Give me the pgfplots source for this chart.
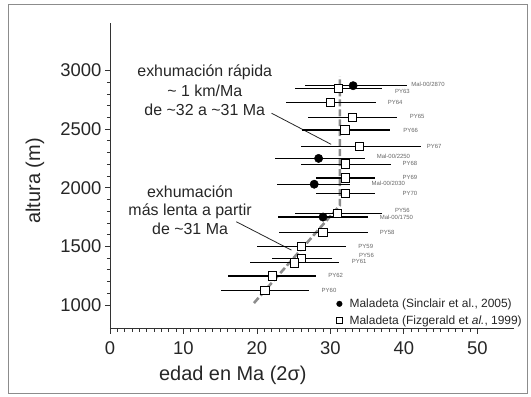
\documentclass[border=0pt]{standalone}
\usepackage{fontspec}
\setmainfont{Liberation Sans}
\usepackage{pgfplots}
\pgfplotsset{compat=1.18}
\usepackage{pgfplotstable}

\pgfplotstableread{
x y em ep
31.1 2846 5.9 5.9
30.0 2727 6.0 6.2
33.0 2599 6.0 6.1
32.0 2491 5.9 6.1
34.0 2354 8.0 8.4
32.1 2201 6.1 6.1
32.1 2084 4.0 4.0
32.1 1951 4.0 4.0
31.0 1781 5.8 6.0
29.0 1616 6.0 6.1
26.1 1497 6.1 6.0
26.1 1398 4.1 4.1
25.1 1360 6.1 6.1
22.1 1247 6.0 6.0
21.1 1122 6.0 6.0
}\fitz

\pgfplotstableread{
x y em ep
33.1 2870 6.6 7.3
28.4 2250 6.0 6.3
27.8 2030 5.1 4.9
29.0 1750 6.1 6.1
}\sinc

\pgfplotstableread{
x y
19.6 1017
31.3 1850
31.3 2950
}\trend

\begin{document}
\begin{tikzpicture}
\useasboundingbox (-110bp,-68.5bp) rectangle (421bp,328.5bp);
\draw[black!45, line width=1pt] (-102bp,-64.5bp) rectangle (417bp,323.5bp);
\begin{axis}[
  at={(0,0)}, anchor=south west,
  scale only axis, width=404bp, height=305bp,
  xmin=0, xmax=55, ymin=800, ymax=3400,
  axis lines=left, axis line style={-, line width=0.8pt, black!80},
  xtick={0,10,...,50}, ytick={1000,1500,...,3000},
  minor x tick num=9, minor y tick num=4,
  tick align=outside, major tick length=5bp, minor tick length=3bp,
  every tick/.style={line width=0.7pt, black!80},
  /pgf/number format/assume math mode=true,
  /pgf/number format/1000 sep={},
  ticklabel style={font=\fontsize{18.5}{20}\selectfont, text=black!85},
  xticklabel style={yshift=-5bp},
  xlabel={edad en Ma (2σ)}, ylabel={altura (m)},
  label style={font=\fontsize{20}{22}\selectfont, text=black!85},
  xlabel style={at={(axis description cs:0.304,-0.152)}, anchor=center},
  ylabel style={at={(axis description cs:-0.186,0.484)}, anchor=center},
  clip=false,
  legend style={at={(axis cs:30.6,1068)}, anchor=north west, draw=none, fill=none,
    inner sep=0pt, row sep=3.5bp, font=\fontsize{12}{13}\selectfont, text=black!85,
    nodes={inner sep=1.5pt}},
  legend cell align=left,
  legend image code/.code={\path (0,0) (0.45cm,0); \draw[#1, mark size=2.8bp] plot coordinates {(0.15cm,0cm)};},
]
\addplot[no marks, line width=2.6pt, black!45, dash pattern=on 7pt off 3pt, forget plot] table[x=x,y=y] {\trend};
\addplot[no marks, line width=0.8pt, black!85, forget plot] coordinates {(22.0,2635) (30.1,2370)};
\addplot[no marks, line width=0.8pt, black!85, forget plot] coordinates {(17.2,1710) (24.7,1468)};

\addplot[only marks, mark=*, mark size=4.2bp, mark options={fill=black, draw=black},
  error bars/.cd, x dir=both, x explicit, error mark=none,
  error bar style={line width=1.3pt, black}]
  table[x=x, y=y, x error plus=ep, x error minus=em] {\sinc};
\addlegendentry{Maladeta (Sinclair et al., 2005)}

\addplot[only marks, mark=square*, mark size=4.2bp, mark options={fill=white, draw=black, line width=1pt},
  error bars/.cd, x dir=both, x explicit, error mark=none,
  error bar style={line width=1.3pt, black}]
  table[x=x, y=y, x error plus=ep, x error minus=em] {\fitz};
\addlegendentry{Maladeta (Fizgerald et \textit{al.}, 1999)}

\node[align=center, font=\fontsize{16}{20}\selectfont, text=black!85] at (axis cs:12.9,2831)
  {exhumación rápida\\\textasciitilde{} 1 km/Ma\\de \textasciitilde32 a \textasciitilde31 Ma};
\node[align=center, font=\fontsize{16}{18.5}\selectfont, text=black!85] at (axis cs:10.9,1809)
  {exhumación\\más lenta a partir\\de \textasciitilde31 Ma};

\begin{scope}[every node/.style={anchor=west, inner sep=0pt, font=\fontsize{6}{6}\selectfont, text=black!60}]
\node at (axis cs:41.0,2880) {Mal-00/2870};
\node at (axis cs:38.8,2825) {PY63};
\node at (axis cs:37.8,2727) {PY64};
\node at (axis cs:40.8,2604) {PY65};
\node at (axis cs:39.9,2491) {PY66};
\node at (axis cs:43.1,2349) {PY67};
\node at (axis cs:36.3,2269) {Mal-00/2250};
\node at (axis cs:39.8,2207) {PY68};
\node at (axis cs:39.8,2084) {PY69};
\node at (axis cs:35.6,2037) {Mal-00/2030};
\node at (axis cs:39.8,1951) {PY70};
\node at (axis cs:38.8,1803) {PY56};
\node at (axis cs:36.7,1747) {Mal-00/1750};
\node at (axis cs:36.7,1616) {PY58};
\node at (axis cs:33.8,1503) {PY59};
\node at (axis cs:33.9,1420) {PY56};
\node at (axis cs:32.9,1375) {PY61};
\node at (axis cs:29.7,1256) {PY62};
\node at (axis cs:28.8,1122) {PY60};
\end{scope}
\end{axis}
\end{tikzpicture}
\end{document}
